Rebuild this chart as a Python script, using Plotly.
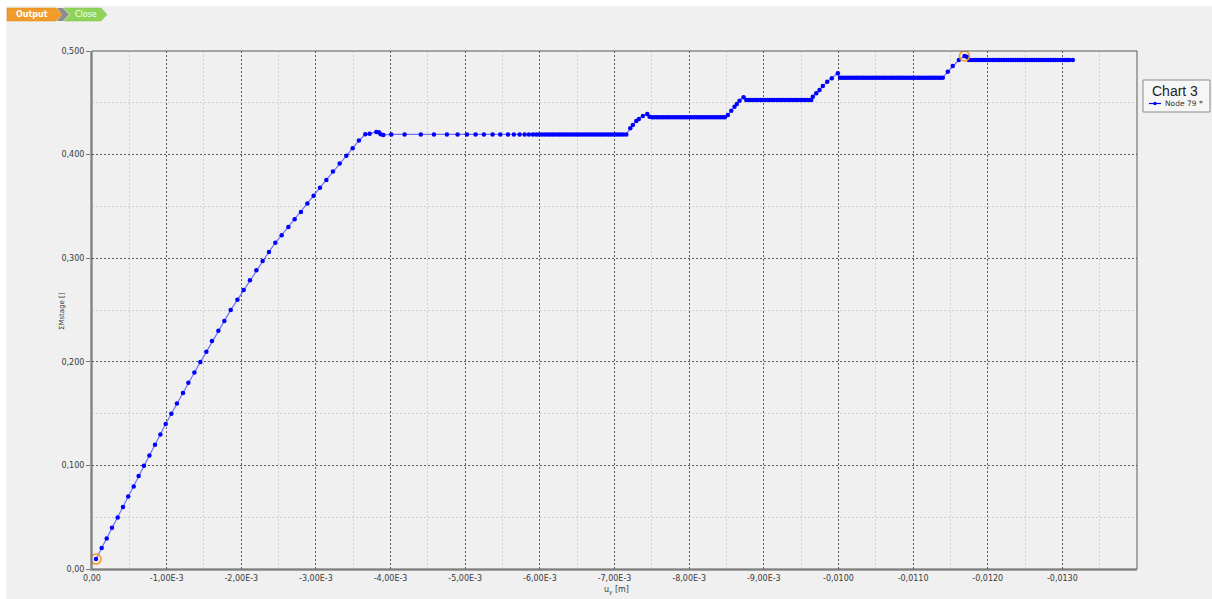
import plotly.graph_objects as go

# ---------------------------------------------------------------- data
# Node 79: vertical displacement |u_y| in units of 1e-3 m and the
# corresponding cumulative stage multiplier (Sum-Mstage).

uy_loading = [
    0.054, 0.130, 0.197, 0.268, 0.344, 0.415, 0.485, 0.559, 0.625, 0.696,
    0.769, 0.844, 0.916, 0.987, 1.063, 1.138, 1.219, 1.291, 1.372, 1.452,
    1.532, 1.607, 1.693, 1.773, 1.858, 1.948, 2.032, 2.116, 2.202, 2.286,
    2.371, 2.456, 2.541, 2.631, 2.715, 2.799, 2.885, 2.969, 3.054, 3.140,
    3.228, 3.318, 3.407, 3.492, 3.576, 3.662, 3.720, 3.809, 3.844, 3.867,
    3.903,
]
m_loading = [
    0.0096, 0.0203, 0.0295, 0.0398, 0.0498, 0.0598, 0.0700, 0.0797, 0.0897, 0.0997,
    0.1096, 0.1199, 0.1298, 0.1399, 0.1498, 0.1598, 0.1698, 0.1797, 0.1897, 0.1997,
    0.2096, 0.2200, 0.2299, 0.2395, 0.2499, 0.2598, 0.2692, 0.2788, 0.2884, 0.2974,
    0.3061, 0.3148, 0.3222, 0.3302, 0.3376, 0.3447, 0.3527, 0.3604, 0.3681, 0.3756,
    0.3836, 0.3913, 0.3990, 0.4061, 0.4135, 0.4196, 0.4202, 0.4219, 0.4216, 0.4196,
    0.4190,
]

uy_stage1 = [
    4.010, 4.188, 4.405, 4.581, 4.755, 4.898, 5.023, 5.139, 5.250, 5.367,
    5.470, 5.572, 5.652, 5.729, 5.796, 5.853, 5.907, 5.952, 5.990, 6.026,
    6.061, 6.097, 6.130, 6.166, 6.199, 6.235, 6.268, 6.303, 6.337, 6.371,
    6.405, 6.440, 6.474, 6.508, 6.541, 6.576, 6.610, 6.644, 6.678, 6.712,
    6.746, 6.780, 6.814, 6.848, 6.882, 6.917, 6.950, 6.985, 7.018, 7.052,
    7.087, 7.121, 7.158,
]
m_stage1 = [
    0.4195, 0.4195, 0.4195, 0.4195, 0.4195, 0.4195, 0.4195, 0.4195, 0.4195, 0.4195,
    0.4195, 0.4195, 0.4195, 0.4195, 0.4195, 0.4195, 0.4195, 0.4195, 0.4195, 0.4195,
    0.4195, 0.4195, 0.4195, 0.4195, 0.4195, 0.4195, 0.4195, 0.4195, 0.4195, 0.4195,
    0.4195, 0.4195, 0.4195, 0.4195, 0.4195, 0.4195, 0.4195, 0.4195, 0.4195, 0.4195,
    0.4195, 0.4195, 0.4195, 0.4195, 0.4195, 0.4195, 0.4195, 0.4195, 0.4195, 0.4195,
    0.4195, 0.4195, 0.4195,
]

uy_stage2 = [
    7.211, 7.246, 7.292, 7.327, 7.380, 7.439, 7.470,
    7.502, 7.533, 7.565, 7.596, 7.628, 7.659, 7.691, 7.722, 7.754, 7.785,
    7.817, 7.848, 7.880, 7.911, 7.943, 7.974, 8.006, 8.037, 8.069, 8.100,
    8.132, 8.163, 8.195, 8.226, 8.258, 8.289, 8.321, 8.352, 8.384, 8.415,
    8.447, 8.478,
]
m_stage2 = [
    0.4254, 0.4286, 0.4325, 0.4344, 0.4373, 0.4393, 0.4366,
    0.4360, 0.4360, 0.4360, 0.4360, 0.4360, 0.4360, 0.4360, 0.4360, 0.4360, 0.4360,
    0.4360, 0.4360, 0.4360, 0.4360, 0.4360, 0.4360, 0.4360, 0.4360, 0.4360, 0.4360,
    0.4360, 0.4360, 0.4360, 0.4360, 0.4360, 0.4360, 0.4360, 0.4360, 0.4360, 0.4360,
    0.4360, 0.4360,
]

uy_stage3 = [
    8.519, 8.564, 8.608, 8.639, 8.675, 8.729,
    8.765, 8.797, 8.828, 8.860, 8.891, 8.923, 8.954, 8.986, 9.017, 9.049,
    9.080, 9.112, 9.143, 9.175, 9.206, 9.238, 9.269, 9.301, 9.332, 9.364,
    9.395, 9.427, 9.458, 9.490, 9.521, 9.553, 9.584, 9.616, 9.636,
]
m_stage3 = [
    0.4383, 0.4424, 0.4463, 0.4489, 0.4520, 0.4553,
    0.4527, 0.4527, 0.4527, 0.4527, 0.4527, 0.4527, 0.4527, 0.4527, 0.4527, 0.4527,
    0.4527, 0.4527, 0.4527, 0.4527, 0.4527, 0.4527, 0.4527, 0.4527, 0.4527, 0.4527,
    0.4527, 0.4527, 0.4527, 0.4527, 0.4527, 0.4527, 0.4527, 0.4527, 0.4527,
]

uy_stage4 = [
    9.657, 9.703, 9.747, 9.791, 9.850, 9.911, 9.992,
    10.021, 10.052, 10.083, 10.115, 10.146, 10.177, 10.209, 10.240, 10.271, 10.303,
    10.334, 10.365, 10.397, 10.428, 10.459, 10.491, 10.522, 10.553, 10.585, 10.616,
    10.647, 10.679, 10.710, 10.741, 10.773, 10.804, 10.835, 10.867, 10.898, 10.929,
    10.961, 10.992, 11.023, 11.055, 11.086, 11.117, 11.149, 11.180, 11.211, 11.243,
    11.274, 11.305, 11.337, 11.368, 11.398,
]
m_stage4 = [
    0.4559, 0.4592, 0.4624, 0.4662, 0.4704, 0.4737, 0.4785,
    0.4743, 0.4743, 0.4743, 0.4743, 0.4743, 0.4743, 0.4743, 0.4743, 0.4743, 0.4743,
    0.4743, 0.4743, 0.4743, 0.4743, 0.4743, 0.4743, 0.4743, 0.4743, 0.4743, 0.4743,
    0.4743, 0.4743, 0.4743, 0.4743, 0.4743, 0.4743, 0.4743, 0.4743, 0.4743, 0.4743,
    0.4743, 0.4743, 0.4743, 0.4743, 0.4743, 0.4743, 0.4743, 0.4743, 0.4743, 0.4743,
    0.4743, 0.4743, 0.4743, 0.4743, 0.4743,
]

uy_stage5 = [
    11.465, 11.532, 11.613, 11.689, 11.720,
    11.747, 11.778, 11.809, 11.841, 11.872, 11.903, 11.935, 11.966, 11.997, 12.029,
    12.060, 12.091, 12.123, 12.154, 12.185, 12.217, 12.248, 12.279, 12.311, 12.342,
    12.373, 12.405, 12.436, 12.467, 12.499, 12.530, 12.561, 12.593, 12.624, 12.655,
    12.687, 12.718, 12.749, 12.781, 12.812, 12.843, 12.875, 12.906, 12.937, 12.969,
    13.000, 13.031, 13.063, 13.094, 13.140,
]
m_stage5 = [
    0.4800, 0.4855, 0.4913, 0.4952, 0.4945,
    0.4913, 0.4913, 0.4913, 0.4913, 0.4913, 0.4913, 0.4913, 0.4913, 0.4913, 0.4913,
    0.4913, 0.4913, 0.4913, 0.4913, 0.4913, 0.4913, 0.4913, 0.4913, 0.4913, 0.4913,
    0.4913, 0.4913, 0.4913, 0.4913, 0.4913, 0.4913, 0.4913, 0.4913, 0.4913, 0.4913,
    0.4913, 0.4913, 0.4913, 0.4913, 0.4913, 0.4913, 0.4913, 0.4913, 0.4913, 0.4913,
    0.4913, 0.4913, 0.4913, 0.4913, 0.4913,
]

x_tick_vals = [0, -0.001, -0.002, -0.003, -0.004, -0.005, -0.006, -0.007,
               -0.008, -0.009, -0.010, -0.011, -0.012, -0.013]
x_tick_text = ["0,00", "-1,00E-3", "-2,00E-3", "-3,00E-3", "-4,00E-3", "-5,00E-3",
               "-6,00E-3", "-7,00E-3", "-8,00E-3", "-9,00E-3", "-0,0100",
               "-0,0110", "-0,0120", "-0,0130"]
y_tick_vals = [0, 0.1, 0.2, 0.3, 0.4, 0.5]
y_tick_text = ["0,00", "0,100", "0,200", "0,300", "0,400", "0,500"]

chart_title = "Chart 3"
series_name = "Node 79 *"
y_title = "ΣMstage []"
x_title = "u<sub>y</sub> [m]"

# ---------------------------------------------------------------- series
uy_parts = [uy_loading, uy_stage1, uy_stage2, uy_stage3, uy_stage4, uy_stage5]
m_parts = [m_loading, m_stage1, m_stage2, m_stage3, m_stage4, m_stage5]
for a, b in zip(uy_parts, m_parts):
    assert len(a) == len(b), (len(a), len(b))

uy_m = [-v * 1e-3 for part in uy_parts for v in part]   # metres, downward negative
sum_m = [v for part in m_parts for v in part]

i_peak = max(range(len(sum_m)), key=lambda i: sum_m[i])
marked = [0, i_peak]

# ---------------------------------------------------------------- layout helpers
W, H = 1212, 599
ML, MR, MT, MB = 92, 75, 51, 30
PW, PH = W - ML - MR, H - MT - MB


def fx(p):
    return (p - ML) / PW


def fy(p):
    return (H - MB - p) / PH


def path(points):
    return "M " + " L ".join(f"{fx(x):.5f},{fy(y):.5f}" for x, y in points) + " Z"


def label(text, x, y, size, color="#3a3a3a", family="DejaVu Sans",
          xanchor="center", angle=0):
    return dict(text=text, x=fx(x), y=fy(y), xref="paper", yref="paper",
                xanchor=xanchor, yanchor="middle", showarrow=False, textangle=angle,
                font=dict(family=family, size=size, color=color))


BLUE = "#0000ff"
FONT = "DejaVu Sans"

fig = go.Figure()

fig.add_trace(go.Scatter(
    x=uy_m, y=sum_m, mode="lines+markers", name=series_name,
    line=dict(color="rgba(70,70,255,0.75)", width=1.2),
    marker=dict(color=BLUE, size=4.5, line=dict(width=0)),
    showlegend=False, hoverinfo="x+y",
))

fig.add_trace(go.Scatter(
    x=[uy_m[i] for i in marked], y=[sum_m[i] for i in marked], mode="markers",
    marker=dict(symbol="circle-open", size=10, color="#f39a26", line=dict(width=1.6)),
    showlegend=False, hoverinfo="skip",
))

shapes = []
# outer white frame strip (top and left)
shapes.append(dict(type="rect", xref="paper", yref="paper", layer="below",
                   x0=fx(0), x1=fx(W), y0=fy(6), y1=fy(0),
                   fillcolor="white", line=dict(width=0)))
shapes.append(dict(type="rect", xref="paper", yref="paper", layer="below",
                   x0=fx(0), x1=fx(6), y0=fy(H), y1=fy(0),
                   fillcolor="white", line=dict(width=0)))
# plot frame (top / right)
shapes.append(dict(type="rect", xref="paper", yref="paper", layer="above",
                   x0=0, x1=1, y0=0, y1=1, line=dict(color="#5a5a5a", width=1)))

# toolbar buttons
shapes.append(dict(type="path", xref="paper", yref="paper", layer="above",
                   path=path([(57, 8), (63, 8), (69, 14.5), (63, 21), (57, 21), (62, 14.5)]),
                   fillcolor="#8c8c8c", line=dict(width=0)))
shapes.append(dict(type="path", xref="paper", yref="paper", layer="above",
                   path=path([(7, 8), (56, 8), (62, 14.5), (56, 21), (7, 21)]),
                   fillcolor="#f19b2c", line=dict(color="#e08a1a", width=0.5)))
shapes.append(dict(type="path", xref="paper", yref="paper", layer="above",
                   path=path([(64, 8), (101, 8), (107, 14.5), (101, 21), (64, 21), (70, 14.5)]),
                   fillcolor="#8fd35a", line=dict(color="#7cc245", width=0.5)))

# legend box
shapes.append(dict(type="rect", xref="paper", yref="paper", layer="above",
                   x0=fx(1143), x1=fx(1210), y0=fy(112), y1=fy(80),
                   fillcolor="#f6f6f6", line=dict(color="#8a8a8a", width=1)))
shapes.append(dict(type="line", xref="paper", yref="paper", layer="above",
                   x0=fx(1149), x1=fx(1161), y0=fy(103.5), y1=fy(103.5),
                   line=dict(color=BLUE, width=1.2)))
shapes.append(dict(type="circle", xref="paper", yref="paper", layer="above",
                   x0=fx(1153.3), x1=fx(1156.7), y0=fy(105.2), y1=fy(101.8),
                   fillcolor=BLUE, line=dict(color=BLUE, width=0)))

annotations = [
    label("<b>Output</b>", 32, 14.5, 8, color="white"),
    label("Close", 86, 14.5, 8, color="#f4fff0"),
    label(chart_title, 1175, 91, 14, color="#222", family="Liberation Sans"),
    label(series_name, 1163, 103.5, 7.5, color="#333", xanchor="left"),
    label(y_title, 62, 311, 7, angle=-90),
    label(x_title, 616, 590, 8),
]

fig.update_layout(
    width=W, height=H,
    margin=dict(l=ML, r=MR, t=MT, b=MB, autoexpand=False),
    paper_bgcolor="#f0f0f0", plot_bgcolor="#f0f0f0",
    font=dict(family=FONT, size=8, color="#3a3a3a"),
    showlegend=False,
    shapes=shapes, annotations=annotations,
    xaxis=dict(
        range=[0, -0.014], tickmode="array", tickvals=x_tick_vals, ticktext=x_tick_text,
        showgrid=True, gridcolor="#5a5a5a", griddash="2px,2px", gridwidth=1,
        minor=dict(tickmode="array",
                   tickvals=[-0.0005 - 0.001 * k for k in range(14)],
                   showgrid=True, gridcolor="#cfcfcf", griddash="2px,2px", gridwidth=1),
        showline=True, linecolor="#a3a3a3", linewidth=2,
        zeroline=False, ticks="", tickfont=dict(size=8, color="#3a3a3a"),
    ),
    yaxis=dict(
        range=[0, 0.5], tickmode="array", tickvals=y_tick_vals, ticktext=y_tick_text,
        showgrid=True, gridcolor="#5a5a5a", griddash="2px,2px", gridwidth=1,
        minor=dict(tickmode="array", tickvals=[0.05, 0.15, 0.25, 0.35, 0.45],
                   showgrid=True, gridcolor="#cfcfcf", griddash="2px,2px", gridwidth=1),
        showline=True, linecolor="#a3a3a3", linewidth=2,
        zeroline=False, ticks="outside", ticklen=4, tickcolor="#777",
        tickfont=dict(size=8, color="#3a3a3a"),
    ),
)

fig.write_html("out.html")
